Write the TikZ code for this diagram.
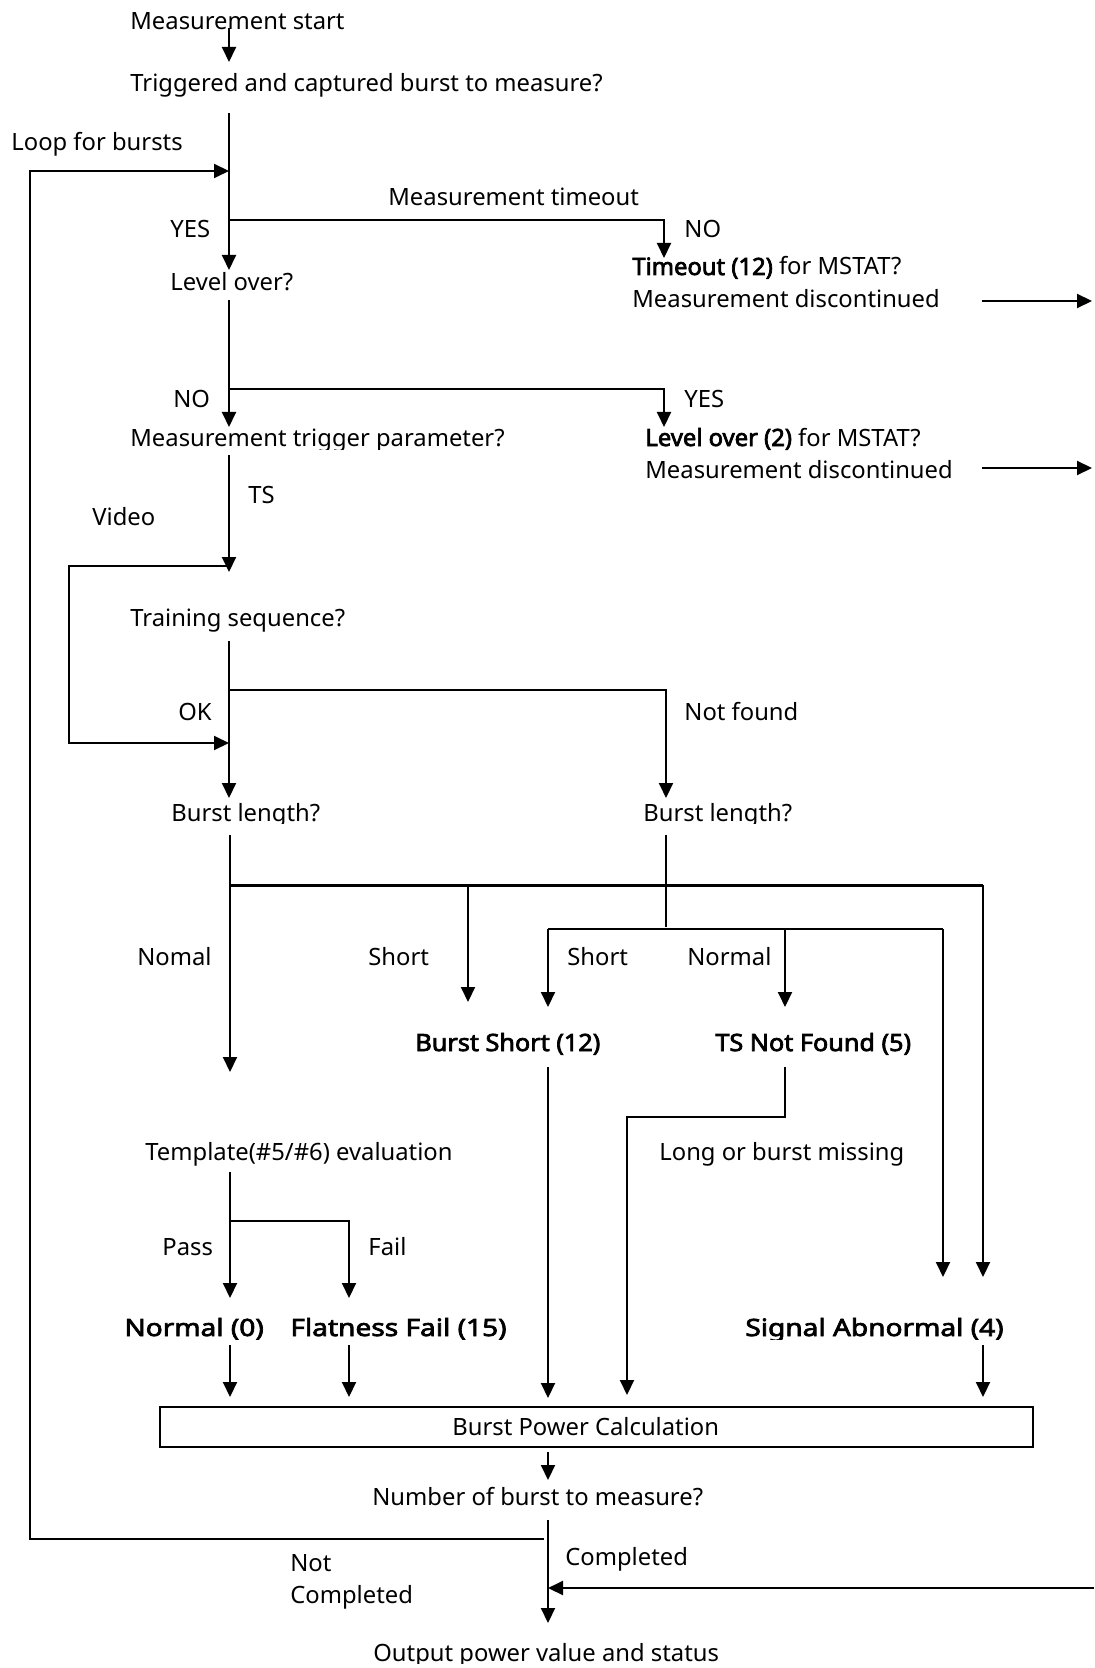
\documentclass[tikz,border=0pt]{standalone}
\usepackage{fontspec}
\setmainfont{Noto Sans}[AutoFakeBold=3]
\newcommand{\wideA}[1]{{\addfontfeatures{FakeStretch=1.06}\textbf{#1}}}
\newcommand{\wideB}[1]{{\addfontfeatures{FakeStretch=1.18}\textbf{#1}}}
\usetikzlibrary{arrows.meta}
\begin{document}
\begin{tikzpicture}[x=0.5pt,y=-0.5pt,
  every node/.style={font=\fontsize{11.9}{14}\selectfont},
  lbl/.style={anchor=base west, inner sep=0pt},
  arr/.style={line width=1pt, -{Triangle[length=7.5pt,width=7pt]}}]
\useasboundingbox[fill=white] (0,0) rectangle (1094,1668);

% ---------- texts ----------
\node[lbl] (tstart) at (130,30) {Measurement start};
\node[lbl] (ttrig) at (130,92) {Triggered and captured burst to measure?};
\node[lbl] (tloop) at (11,151) {Loop for bursts};
\node[lbl] (ttimeout) at (388,206) {Measurement timeout};
\node[lbl] (tyes1) at (170,238) {YES};
\node[lbl] (tno1) at (684,238) {NO};
\node[lbl] (tlevel) at (170,291) {Level over?};
\node[lbl] (tto1) at (632,275) {\textbf{Timeout (12)} for MSTAT?};
\node[lbl] (tto2) at (632,308) {Measurement discontinued};
\node[lbl] (tno2) at (173,408) {NO};
\node[lbl] (tyes2) at (684,408) {YES};
\begin{scope}
\clip (120,420) rectangle (540,449);
\node[lbl] (tmtp) at (130,446) {Measurement trigger parameter?};
\end{scope}
\node[lbl] (tlo1) at (645,446) {\textbf{Level over (2)} for MSTAT?};
\node[lbl] (tlo2) at (645,478) {Measurement discontinued};
\node[lbl] (tts) at (248,503) {TS};
\begin{scope}
\clip (80,500) rectangle (170,526);
\node[lbl] (tvideo) at (92,525) {Video};
\end{scope}
\node[lbl] (ttrain) at (130,626) {Training sequence?};
\node[lbl] (tok) at (178,720) {OK};
\node[lbl] (tnf) at (684,720) {Not found};
\begin{scope}
\clip (160,795) rectangle (820,823);
\node[lbl] (tbl1) at (171,821) {Burst length?};
\node[lbl] (tbl2) at (643,821) {Burst length?};
\end{scope}
\node[lbl] (tnomal) at (137,965) {Nomal};
\node[lbl] (tshort1) at (368,965) {Short};
\node[lbl] (tshort2) at (567,965) {Short};
\node[lbl] (tnormal) at (687,965) {Normal};
\node[lbl] (tbs) at (415,1051) {\wideA{Burst Short (12)}};
\node[lbl] (ttsnf) at (715,1051) {\wideA{TS Not Found (5)}};
\node[lbl] (ttempl) at (145,1160) {Template(\#5/\#6) evaluation};
\node[lbl] (tlong) at (659,1160) {Long or burst missing};
\node[lbl] (tpass) at (162,1255) {Pass};
\node[lbl] (tfail) at (368,1255) {Fail};
\begin{scope}
\clip (110,1305) rectangle (1060,1339);
\node[lbl] (tn0) at (124,1336) {\wideB{Normal (0)}};
\node[lbl] (tff) at (290,1336) {\wideB{Flatness Fail (15)}};
\node[lbl] (tsa) at (745,1336) {\wideB{Signal Abnormal (4)}};
\end{scope}
\draw[line width=1pt] (160,1407) rectangle (1033,1447);
\node[lbl] (tbpc) at (452,1435) {Burst Power Calculation};
\node[lbl] (tnum) at (372,1505) {Number of burst to measure?};
\node[lbl] (tcomp) at (565,1565) {Completed};
\node[lbl] (tnot) at (290,1571) {Not};
\node[lbl] (tnotc) at (290,1603) {Completed};
\begin{scope}
\clip (360,1630) rectangle (760,1663);
\node[lbl] (tout) at (373,1661) {Output power value and status};
\end{scope}

% ---------- coordinates ----------
\coordinate (a0) at (229,28);  \coordinate (a1) at (229,62);
\coordinate (s0) at (229,113); \coordinate (s1) at (229,270);
\coordinate (j1) at (229,220); \coordinate (e1) at (664,258);
\coordinate (l0) at (544,1539); \coordinate (l1) at (30,171); \coordinate (l2) at (229,171);
\coordinate (r1a) at (982,301); \coordinate (r1b) at (1092,301);
\coordinate (r2a) at (982,468); \coordinate (r2b) at (1092,468);
\coordinate (s2) at (229,300); \coordinate (s3) at (229,427);
\coordinate (j2) at (229,389); \coordinate (e2) at (664,427);
\coordinate (s4) at (229,455); \coordinate (s5) at (229,572);
\coordinate (v0) at (229,566); \coordinate (v1) at (69,743); \coordinate (v2) at (229,743);
\coordinate (s6) at (229,641); \coordinate (s7) at (229,798);
\coordinate (j3) at (229,690); \coordinate (e3) at (666,798);
\coordinate (b0) at (230,835); \coordinate (b1) at (230,1072);
\coordinate (h0) at (230,885); \coordinate (h1) at (983,885); \coordinate (h2) at (983,1277);
\coordinate (k0) at (468,885); \coordinate (k1) at (468,1002);
\coordinate (c0) at (666,835); \coordinate (c1) at (666,927);
\coordinate (g0) at (548,929); \coordinate (g1) at (943,929);
\coordinate (g2) at (548,1007); \coordinate (g3) at (785,929); \coordinate (g4) at (785,1007);
\coordinate (g5) at (943,1277);
\coordinate (bs0) at (548,1067); \coordinate (bs1) at (548,1398);
\coordinate (ts0) at (785,1067); \coordinate (ts1) at (785,1117); \coordinate (ts2) at (627,1395);
\coordinate (t0) at (230,1172); \coordinate (t1) at (230,1298);
\coordinate (t2) at (230,1221); \coordinate (t3) at (349,1298);
\coordinate (n0) at (230,1345); \coordinate (n1) at (230,1397);
\coordinate (f0) at (349,1345); \coordinate (f1) at (349,1397);
\coordinate (q0) at (983,1345); \coordinate (q1) at (983,1397);
\coordinate (p0) at (548,1452); \coordinate (p1) at (548,1480);
\coordinate (m0) at (548,1520); \coordinate (m1) at (548,1623);
\coordinate (w0) at (1094,1588); \coordinate (w1) at (548,1588);

% ---------- connectors ----------
\draw[arr] (a0) -- (a1);
\draw[arr] (s0) -- (s1);
\draw[arr] (j1) -| (e1);
\draw[arr] (l0) -| (l1) -- (l2);
\draw[arr] (r1a) -- (r1b);
\draw[arr] (r2a) -- (r2b);
\draw[arr] (s2) -- (s3);
\draw[arr] (j2) -| (e2);
\draw[arr] (s4) -- (s5);
\draw[arr] (v0) -| (v1) -- (v2);
\draw[arr] (s6) -- (s7);
\draw[arr] (j3) -| (e3);
\draw[arr] (b0) -- (b1);
\draw[line width=1.5pt] (h0) -- (h1);
\draw[arr] (h1) -- (h2);
\draw[arr] (k0) -- (k1);
\draw[line width=0.8pt] (c0) -- (c1);
\draw[line width=1.3pt] (g0) -- (g1);
\draw[arr] (g0) -- (g2);
\draw[arr] (g3) -- (g4);
\draw[arr] (g1) -- (g5);
\draw[arr] (bs0) -- (bs1);
\draw[arr] (ts0) -- (ts1) -| (ts2);
\draw[arr] (t0) -- (t1);
\draw[arr] (t2) -| (t3);
\draw[arr] (n0) -- (n1);
\draw[arr] (f0) -- (f1);
\draw[arr] (q0) -- (q1);
\draw[arr] (p0) -- (p1);
\draw[arr] (m0) -- (m1);
\draw[arr] (w0) -- (w1);
\end{tikzpicture}
\end{document}
